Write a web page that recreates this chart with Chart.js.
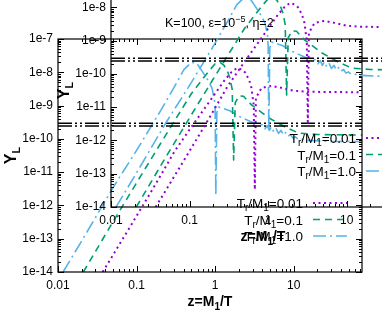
<!DOCTYPE html>
<html>
<head>
<meta charset="utf-8">
<title>Y_L vs z</title>
<script src="https://cdn.jsdelivr.net/npm/chart.js@4.4.1/dist/chart.umd.min.js"></script>
<style>
body{margin:0;background:#fff}
#wrap{position:relative;width:382px;height:327px;overflow:hidden}
canvas{position:absolute}
#back{left:0;top:0}
#front{left:53px;top:-65px}
</style>
</head>
<body>
<div id="wrap">
<canvas id="back" width="382" height="327"></canvas>
<canvas id="front" width="382" height="327"></canvas>
</div>
<script>
// |Y_L| against z = M1/T
var zPurple = [0.037,0.05,0.1,0.2,0.3,0.5,0.7,1.0,1.3,1.6,1.9,2.2,2.4,2.7,2.9,3.1,3.2,3.3,3.9,5.2,7.0,10,15,74];
var yPurple = [1e-14,3.2e-14,4.8e-13,7.5e-12,4e-11,2.3e-10,7e-10,2.3e-9,5.5e-9,1e-8,1.35e-8,1.2e-8,1e-8,6e-9,3.4e-9,1e-9,3e-12,1.7e-9,3.4e-9,3.9e-9,3.4e-9,2.8e-9,2.6e-9,2.5e-9];

var zGreen = [0.021,0.05,0.1,0.2,0.3,0.5,0.7,0.85,1.0,1.15,1.3,1.45,1.55,1.65,1.72,1.8,2.0,2.3,2.9,4.8,7.7,11.5,20,74];
var yGreen = [1e-14,3.2e-13,4.8e-12,7e-11,3.3e-10,2.3e-9,6.5e-9,1.15e-8,1.8e-8,2e-8,1.6e-8,1e-8,6.5e-9,3e-9,2.3e-11,1.2e-9,1.95e-9,1.9e-9,1.05e-9,4.3e-10,2.3e-10,1.5e-10,1.35e-10,1.3e-10];

var zBlue = [0.0116,0.02,0.05,0.1,0.2,0.3,0.4,0.5,0.58,0.68,0.8,0.91,0.98,1.0,1.02,1.05,1.1,1.2,1.54,2.0,2.9,4.0,4.3,4.6,4.9,5.2,5.6,6.0,6.4,6.9,7.4,7.9,8.5,9.1,9.8,10.5,11.3,12.2,15,30,74];
var yBlue = [1e-14,8.5e-14,3.4e-12,4.5e-11,6.7e-10,3.5e-9,1.2e-8,2e-8,1.9e-8,1.1e-8,6e-9,3.4e-9,1.5e-9,7e-10,2e-12,6e-10,9e-10,8.5e-10,7e-10,4.8e-10,3.2e-10,2.6e-10,2.0e-10,2.5e-10,1.8e-10,2.3e-10,1.6e-10,2.0e-10,1.45e-10,1.8e-10,1.3e-10,1.55e-10,1.2e-10,1.35e-10,1.05e-10,1.15e-10,9.8e-11,1.0e-10,9e-11,8.4e-11,8.3e-11];

// observed band (two black lines)
var yObs = [2.95e-10, 2.45e-10];

var xRange = [0.01, 74];
var yRange = [1e-14, 1e-7];
var xTicks = [0.01,0.1,1,10];
var xTickLabels = ['0.01','0.1','1','10'];
var yTicks = [1e-14,1e-13,1e-12,1e-11,1e-10,1e-9,1e-8,1e-7];
var yTickLabels = ['1e-14','1e-13','1e-12','1e-11','1e-10','1e-9','1e-8','1e-7'];
var keyValues = ['0.01','0.1','1.0'];

var PURPLE='#9400d3', GREEN='#009e73', BLUE='#56b4e9';
var FONT='"Liberation Sans", Arial, sans-serif';
var styles=[
  {c:PURPLE,d:[2,3.5],w:2},
  {c:GREEN,d:[7,5],w:1.6},
  {c:BLUE,d:[13,4,2,4],w:1.6}
];

function pts(xs,ys){return xs.map(function(x,i){return {x:x,y:ys[i]};});}

// draw text pieces with sub/superscripts
function rich(c,parts,x,y,align){
  var w=0;
  parts.forEach(function(p){c.font=(p.b?'bold ':'')+p.s+'px '+FONT;p.w=c.measureText(p.t).width;w+=p.w;});
  var sx = align=='right'?x-w:(align=='center'?x-w/2:x);
  parts.forEach(function(p){c.font=(p.b?'bold ':'')+p.s+'px '+FONT;c.fillText(p.t,sx,y+(p.dy||0));sx+=p.w;});
}

var decor={id:'decor',afterDraw:function(chart,args,opts){
  var c=chart.ctx,a=chart.chartArea,xs=chart.scales.x,ys=chart.scales.y;
  c.save();
  c.strokeStyle='#000';c.lineWidth=1.2;
  c.strokeRect(a.left,a.top,a.right-a.left,a.bottom-a.top);
  c.lineWidth=1;
  c.beginPath();
  [0.01,0.1,1,10].forEach(function(d){
    for(var m=1;m<10;m++){
      var v=d*m; if(v>xRange[1])break;
      var p=Math.round(xs.getPixelForValue(v))+0.5, l=m==1?6:3;
      c.moveTo(p,a.bottom);c.lineTo(p,a.bottom-l);
      c.moveTo(p,a.top);c.lineTo(p,a.top+l);
    }
  });
  yTicks.forEach(function(d){
    for(var m=1;m<10;m++){
      var v=d*m; if(v>yRange[1])break;
      var p=Math.round(ys.getPixelForValue(v))+0.5, l=m==1?6:3;
      c.moveTo(a.left,p);c.lineTo(a.left+l,p);
      c.moveTo(a.right,p);c.lineTo(a.right-l,p);
    }
  });
  c.stroke();
  c.fillStyle='#000';c.textBaseline='alphabetic';
  // axis titles
  rich(c,[{t:'z=M',s:14,b:true},{t:'1',s:10,b:true,dy:4},{t:'/T',s:14,b:true}],(a.left+a.right)/2,306,'center');
  c.save();c.translate(a.left-42,(a.top+a.bottom)/2);c.rotate(-Math.PI/2);
  rich(c,[{t:'Y',s:16,b:true},{t:'L',s:11,b:true,dy:4}],0,0,'center');
  c.restore();
  // key
  keyValues.forEach(function(k,i){
    var y=203+i*16.5, s=styles[i];
    rich(c,[{t:'T',s:13.5},{t:'r',s:10,dy:3},{t:'/M',s:13.5},{t:'1',s:10,dy:3},{t:'='+k,s:13.5}],303,y+5,'right');
    c.save();c.strokeStyle=s.c;c.lineWidth=s.w;c.setLineDash(s.d);
    c.beginPath();c.moveTo(313,y);c.lineTo(347,y);c.stroke();c.restore();
  });
  if(opts.label){
    rich(c,[{t:'K=100, \u03b5=10',s:12.5},{t:'\u22125',s:9,dy:-5},{t:', \u03b7=2',s:12.5}],112,92,'left');
  }
  c.restore();
}};

function makeChart(id,label){
  var ds=[];
  yObs.forEach(function(v){
    ds.push({data:[{x:xRange[0],y:v},{x:xRange[1],y:v}],borderColor:'#000',borderWidth:1.5,borderDash:[14,3,2,3,2,3],pointRadius:0});
  });
  [[zPurple,yPurple],[zGreen,yGreen],[zBlue,yBlue]].forEach(function(p,i){
    ds.push({data:pts(p[0],p[1]),borderColor:styles[i].c,borderWidth:styles[i].w,borderDash:styles[i].d,pointRadius:0,borderJoinStyle:'round'});
  });
  var tickFont={family:FONT,size:12};
  return new Chart(document.getElementById(id),{
    type:'line',
    data:{datasets:ds},
    options:{
      responsive:false,animation:false,
      layout:{padding:{top:39,right:20,left:0,bottom:0}},
      plugins:{legend:{display:false},tooltip:{enabled:false},decor:{label:label}},
      scales:{
        x:{type:'logarithmic',min:xRange[0],max:xRange[1],
          afterBuildTicks:function(s){s.ticks=xTicks.map(function(v){return {value:v};});},
          afterFit:function(s){s.height=55;},
          grid:{display:false,drawTicks:false},border:{display:false},
          ticks:{autoSkip:false,maxRotation:0,color:'#000',font:tickFont,padding:6,
            callback:function(v,i){return xTickLabels[i];}}},
        y:{type:'logarithmic',min:yRange[0],max:yRange[1],
          afterBuildTicks:function(s){s.ticks=yTicks.map(function(v){return {value:v};});},
          afterFit:function(s){s.width=58;},
          grid:{display:false,drawTicks:false},border:{display:false},
          ticks:{autoSkip:false,color:'#000',font:tickFont,padding:5,
            callback:function(v,i){return yTickLabels[i];}}}
      }
    },
    plugins:[decor]
  });
}

makeChart('back',false);
makeChart('front',true);
</script>
</body>
</html>
